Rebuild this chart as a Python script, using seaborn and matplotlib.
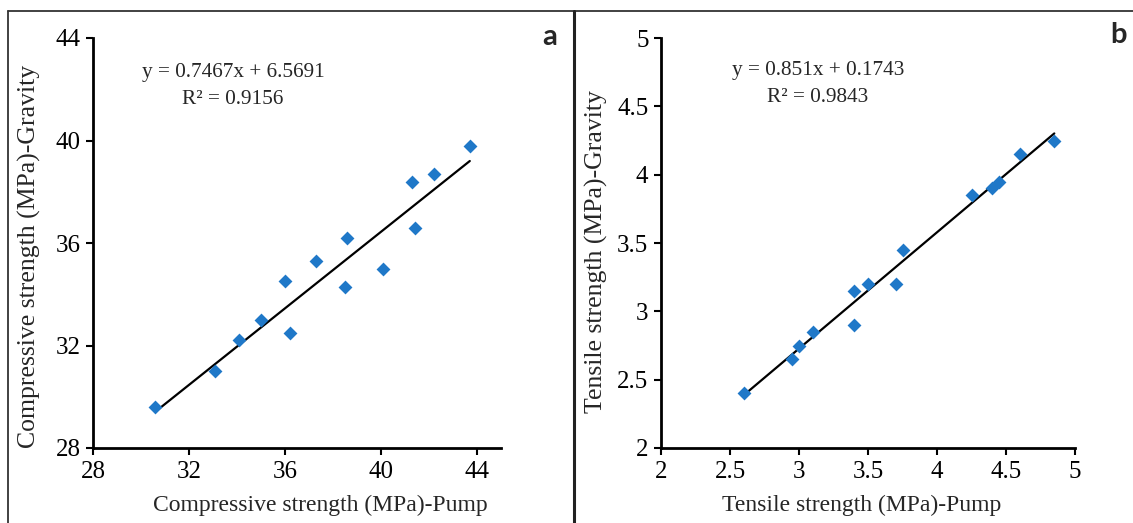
import matplotlib
matplotlib.use("Agg")
import matplotlib.pyplot as plt
from matplotlib.lines import Line2D
import seaborn as sns
import pandas as pd
import numpy as np

# ---- data ----
comp_pump = [30.6, 33.1, 34.1, 35.0, 36.0, 36.2, 37.3, 38.5, 38.6, 40.1, 41.3, 41.4, 42.2, 43.7]
comp_grav = [29.6, 31.0, 32.2, 33.0, 34.5, 32.5, 35.3, 34.3, 36.2, 35.0, 38.4, 36.6, 38.7, 39.8]
tens_pump = [2.6, 2.95, 3.0, 3.1, 3.4, 3.4, 3.5, 3.7, 3.75, 4.25, 4.4, 4.45, 4.6, 4.85]
tens_grav = [2.4, 2.65, 2.75, 2.85, 3.15, 2.9, 3.2, 3.2, 3.45, 3.85, 3.9, 3.95, 4.15, 4.25]
comp_fit = (0.7467, 6.5691)
tens_fit = (0.851, 0.1743)
comp_ticks = [28, 32, 36, 40, 44]
tens_ticks = [2, 2.5, 3, 3.5, 4, 4.5, 5]
tens_ticklabels = ["2", "2.5", "3", "3.5", "4", "4.5", "5"]

sns.set_theme(style="ticks")
plt.rcParams['font.family'] = ['Liberation Serif', 'DejaVu Serif']

fig = plt.figure(figsize=(11.33, 5.23), dpi=100)
axA = fig.add_axes([93/1133, 1-448/523, 408/1133, 410/523])
axB = fig.add_axes([661/1133, 1-448/523, 414/1133, 410/523])

mcolor = '#1f78c8'
serif = ['Liberation Serif', 'DejaVu Serif']
TICK = 18
XL = 17
YL = 18.5
EQ = 15.3

def style(ax):
    for s in ['top', 'right']:
        ax.spines[s].set_visible(False)
    for s in ['left', 'bottom']:
        ax.spines[s].set_linewidth(2.0)
        ax.spines[s].set_color('black')
    ax.tick_params(axis='both', direction='out', length=5, width=1.5,
                   labelsize=TICK, colors='black', pad=4)
    for lab in ax.get_xticklabels() + ax.get_yticklabels():
        lab.set_family(serif)

# Panel a
dfa = pd.DataFrame({'pump': comp_pump, 'grav': comp_grav})
sns.scatterplot(data=dfa, x='pump', y='grav', ax=axA, marker='D', s=50,
                color=mcolor, edgecolor=mcolor, linewidth=0, zorder=3)
xa = np.array([min(comp_pump), max(comp_pump)])
axA.plot(xa, comp_fit[0]*xa + comp_fit[1], color='black', lw=1.6, zorder=2)
axA.set_xlim(28, 45)
axA.set_ylim(28, 44)
axA.set_xticks(comp_ticks)
axA.set_yticks(comp_ticks)
axA.set_xlabel('Compressive strength (MPa)-Pump', fontsize=XL, family=serif)
axA.set_ylabel('Compressive strength (MPa)-Gravity', fontsize=YL, family=serif)
axA.xaxis.set_label_coords(0.556, -0.113)
axA.yaxis.set_label_coords(-0.128, 0.468)
style(axA)
axA.text(0.343, 0.915, 'y = 0.7467x + 6.5691', transform=axA.transAxes,
         ha='center', va='center', fontsize=EQ, family=serif)
axA.text(0.343, 0.849, 'R² = 0.9156', transform=axA.transAxes,
         ha='center', va='center', fontsize=EQ, family=serif)

# Panel b
dfb = pd.DataFrame({'pump': tens_pump, 'grav': tens_grav})
sns.scatterplot(data=dfb, x='pump', y='grav', ax=axB, marker='D', s=50,
                color=mcolor, edgecolor=mcolor, linewidth=0, zorder=3)
xb = np.array([min(tens_pump), max(tens_pump)])
axB.plot(xb, tens_fit[0]*xb + tens_fit[1], color='black', lw=1.6, zorder=2)
axB.set_xlim(2, 5)
axB.set_ylim(2, 5)
axB.set_xticks(tens_ticks)
axB.set_xticklabels(tens_ticklabels)
axB.set_yticks(tens_ticks)
axB.set_yticklabels(tens_ticklabels)
axB.set_xlabel('Tensile strength (MPa)-Pump', fontsize=XL, family=serif)
axB.set_ylabel('Tensile strength (MPa)-Gravity', fontsize=YL, family=serif)
axB.xaxis.set_label_coords(0.485, -0.113)
axB.yaxis.set_label_coords(-0.128, 0.478)
style(axB)
axB.text(0.379, 0.92, 'y = 0.851x + 0.1743', transform=axB.transAxes,
         ha='center', va='center', fontsize=EQ, family=serif)
axB.text(0.379, 0.854, 'R² = 0.9843', transform=axB.transAxes,
         ha='center', va='center', fontsize=EQ, family=serif)

# panel letters
fig.text(550/1133, 1-37/523, 'a', ha='center', va='center', fontsize=21,
         fontweight='bold', family=['Lato', 'DejaVu Sans'])
fig.text(1118/1133, 1-35/523, 'b', ha='center', va='center', fontsize=21,
         fontweight='bold', family=['Lato', 'DejaVu Sans'])

# frame lines
fig.add_artist(Line2D([8/1133, 1], [1-11/523, 1-11/523], transform=fig.transFigure,
                      color='#333333', lw=1.3))
fig.add_artist(Line2D([8/1133, 8/1133], [0, 1-11/523], transform=fig.transFigure,
                      color='#333333', lw=1.3))
fig.add_artist(Line2D([574/1133, 574/1133], [0, 1-11/523], transform=fig.transFigure,
                      color='#222222', lw=2.2))

fig.savefig('out.png', dpi=100)
